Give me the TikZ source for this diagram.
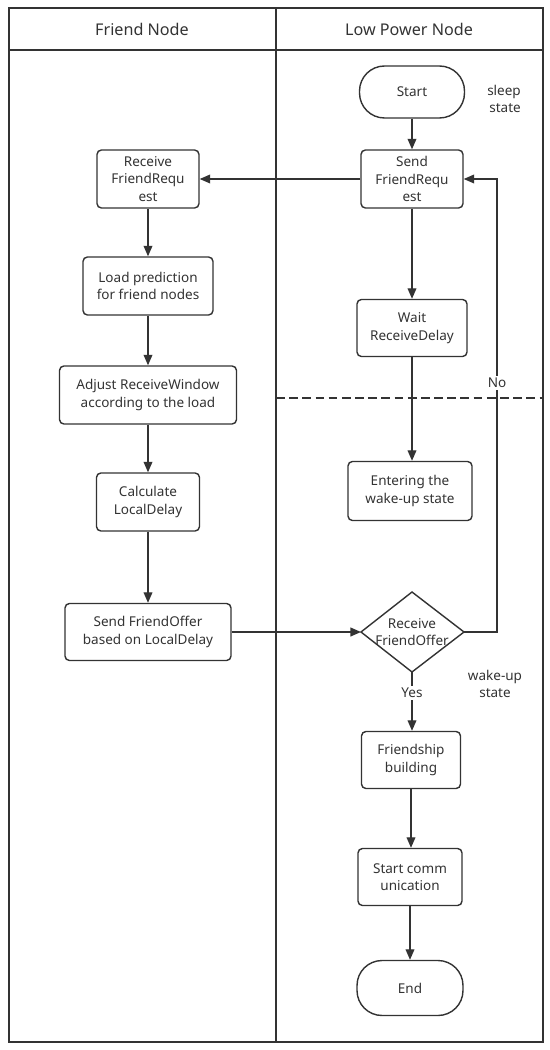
\documentclass[tikz,border=0pt]{standalone}
\usepackage{fontspec}
\setmainfont{Noto Sans}
\usetikzlibrary{arrows.meta}
\definecolor{ln}{HTML}{333333}
\begin{document}
\begin{tikzpicture}[x=0.02cm,y=-0.02cm,
  every node/.style={font=\fontsize{7.7}{9.9}\selectfont, text=ln},
  box/.style={draw=ln, line width=0.8pt, rounded corners=2.5pt, align=center, inner sep=0pt},
  term/.style={draw=ln, line width=0.8pt, rounded corners=0.5cm, align=center, inner sep=0pt},
  arr/.style={draw=ln, line width=0.8pt, -{Triangle[length=6pt,width=5pt]}},
  lbl/.style={fill=white, inner sep=1pt},
  frame/.style={draw=ln, line width=1.1pt}]
\useasboundingbox (0,0) rectangle (550,1050);
% frame
\draw[frame] (9,8) rectangle (543,1042);
\draw[frame] (9,50) -- (543,50);
\draw[draw=ln, line width=1.5pt] (276,8) -- (276,1042);
\draw[draw=ln, line width=0.8pt, dash pattern=on 5pt off 2.5pt] (276,398) -- (543,398);
\node[font=\fontsize{9.2}{11}\selectfont] (h1) at (142,29) {Friend Node};
\node[font=\fontsize{9.2}{11}\selectfont] (h2) at (409,29) {Low Power Node};
% nodes
\node[term, minimum width=2.1cm, minimum height=1.04cm] (start) at (412,92) {Start};
\node[box, minimum width=2.04cm, minimum height=1.16cm] (send) at (412,179) {Send\\FriendRequ\\est};
\node[box, minimum width=2.04cm, minimum height=1.16cm] (recv) at (148,179) {Receive\\FriendRequ\\est};
\node[box, minimum width=2.6cm, minimum height=1.16cm] (load) at (148,286) {Load prediction\\for friend nodes};
\node[box, minimum width=3.54cm, minimum height=1.16cm] (adjust) at (148,395) {Adjust ReceiveWindow\\according to the load};
\node[box, minimum width=2.06cm, minimum height=1.16cm] (calc) at (148,502) {Calculate\\LocalDelay};
\node[box, minimum width=3.32cm, minimum height=1.14cm] (offer) at (148,632) {Send FriendOffer\\based on LocalDelay};
\node[box, minimum width=2.2cm, minimum height=1.14cm] (wait) at (412,328) {Wait\\ReceiveDelay};
\node[box, minimum width=2.48cm, minimum height=1.18cm] (enter) at (410,491) {Entering the\\wake-up state};
\coordinate (dN) at (412,592);
\coordinate (dE) at (464,632);
\coordinate (dS) at (412,672);
\coordinate (dW) at (361,632);
\draw[draw=ln, line width=0.8pt] (dN) -- (dE) -- (dS) -- (dW) -- cycle;
\node[align=center] (dia) at (412,632) {Receive\\FriendOffer};
\node[box, minimum width=1.98cm, minimum height=1.14cm] (fb) at (411,760) {Friendship\\building};
\node[box, minimum width=2.08cm, minimum height=1.14cm] (comm) at (410,877) {Start comm\\unication};
\node[term, minimum width=2.12cm, minimum height=1.1cm] (end) at (410,988) {End};
% side labels
\node[align=right, anchor=east] (sleep) at (527,99) {sleep\\state};
\node[align=center] (wake) at (495,684) {wake-up\\state};
% connectors
\draw[arr] (start) -- (send);
\draw[arr] (send) -- (recv);
\draw[arr] (recv) -- (load);
\draw[arr] (load) -- (adjust);
\draw[arr] (adjust) -- (calc);
\draw[arr] (calc) -- (offer);
\draw[arr] (offer) -- (dW);
\draw[arr] (send) -- (send |- wait.north);
\draw[arr] (wait.south) -- (wait.south |- enter.north);
\coordinate (c1) at (497,632);
\coordinate (c2) at (497,179);
\draw[arr] (dE) -- (c1) -- (c2) -- (send.east);
\node[lbl] (no) at (497,383) {No};
\draw[arr] (dS) -- (dS |- fb.north);
\node[lbl] (yes) at (412,693) {Yes};
\draw[arr] (fb.south) -- (fb.south |- comm.north);
\draw[arr] (comm.south) -- (comm.south |- end.north);
\end{tikzpicture}
\end{document}
